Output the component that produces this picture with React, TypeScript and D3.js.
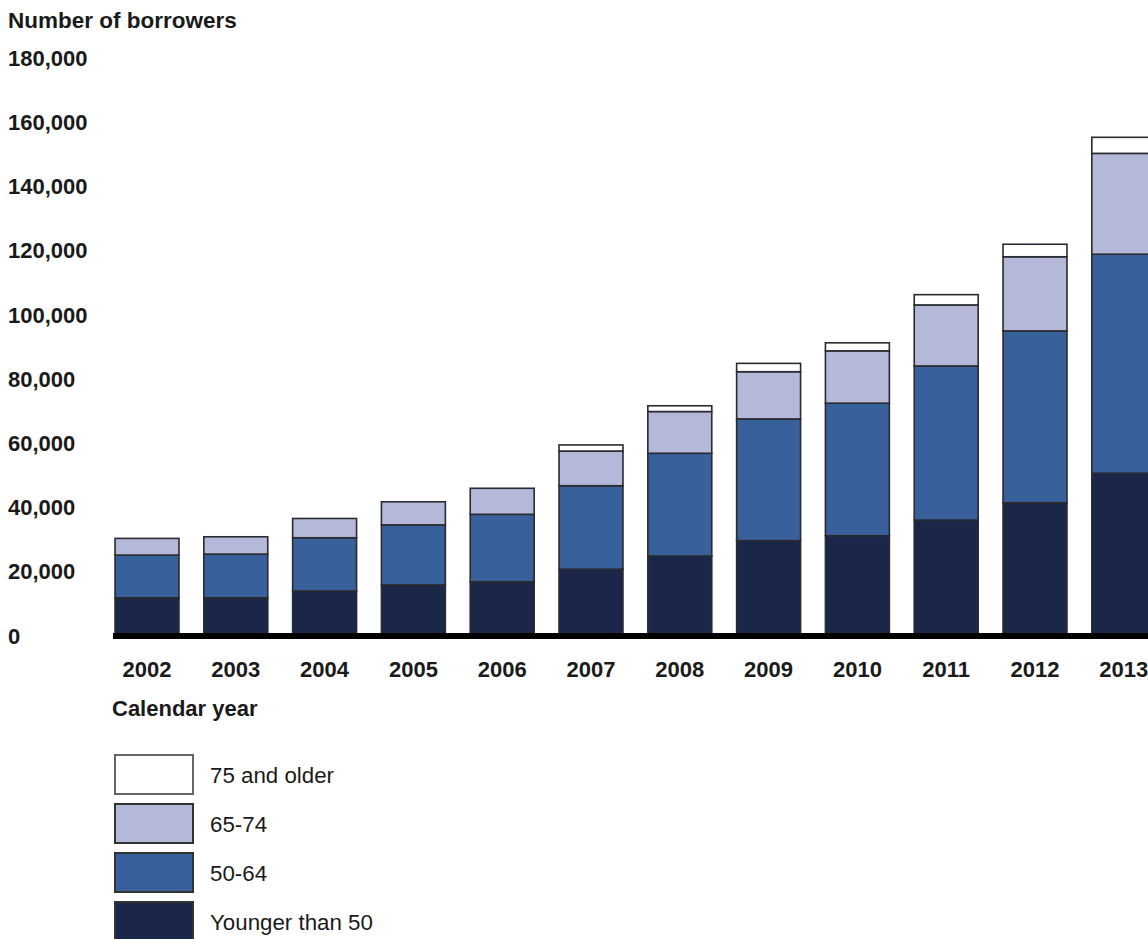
import React from "react";
import * as d3 from "d3";

const years = ["2002","2003","2004","2005","2006","2007","2008","2009","2010","2011","2012","2013"];
const younger50 = [11900, 11900, 14000, 15900, 16900, 20800, 24900, 29700, 31200, 36100, 41500, 50700];
const age50to64 = [13300, 13600, 16600, 18700, 21000, 26000, 32000, 37900, 41300, 48000, 53500, 68200];
const age65to74 = [5200, 5400, 6000, 7200, 8100, 10800, 13000, 14700, 16300, 19000, 23100, 31400];
const age75plus = [0, 0, 0, 0, 0, 1900, 1800, 2600, 2500, 3200, 3900, 5000];
const yTicks = [0, 20000, 40000, 60000, 80000, 100000, 120000, 140000, 160000, 180000];

const seriesKeys = ["young", "mid", "old", "oldest"];
const seriesLabels: Record<string, string> = {
  young: "Younger than 50",
  mid: "50-64",
  old: "65-74",
  oldest: "75 and older",
};
const colors: Record<string, string> = {
  young: "#1b2749",
  mid: "#38609b",
  old: "#b4b9d9",
  oldest: "#ffffff",
};

const FONT = "'Liberation Sans', Arial, Helvetica, sans-serif";

export default function App() {
  const W = 1148, H = 939;
  const y = d3.scaleLinear().domain([0, 180000]).range([636, 58]);
  const x = d3.scaleBand<string>().domain(years).range([102.6, 1168.2]).paddingInner(0.28).paddingOuter(0.14);

  const table = years.map((yr, i) => ({
    year: yr,
    young: younger50[i],
    mid: age50to64[i],
    old: age65to74[i],
    oldest: age75plus[i],
  }));
  const stacked = d3.stack<any>().keys(seriesKeys)(table);
  const fmt = d3.format(",");

  const legendOrder = ["oldest", "old", "mid", "young"];

  return (
    <svg width={W} height={H} style={{ position: "absolute", left: 0, top: 0, background: "#fff" }} fontFamily={FONT}>
      <text x={8} y={20} dy="0.35em" fontSize={22.5} fontWeight="bold" fill="#1a1a1a">Number of borrowers</text>
      {yTicks.map((t) => (
        <text key={t} x={8} y={y(t)} dy="0.35em" fontSize={22} fontWeight="bold" fill="#1a1a1a">{fmt(t)}</text>
      ))}
      {stacked.map((s) => (
        <g key={s.key}>
          {s.map((d, i) => {
            const h = y(d[0]) - y(d[1]);
            if (h <= 0) return null;
            return (
              <rect
                key={i}
                x={x(years[i])}
                y={y(d[1])}
                width={x.bandwidth()}
                height={h}
                fill={colors[s.key]}
                stroke="#2a2a30"
                strokeWidth={1.6}
              />
            );
          })}
        </g>
      ))}
      <line x1={113} x2={W} y1={y(0)} y2={y(0)} stroke="#000" strokeWidth={6} />
      {years.map((yr) => (
        <text key={yr} x={(x(yr) as number) + x.bandwidth() / 2} y={669} dy="0.35em" textAnchor="middle" fontSize={22} fontWeight="bold" fill="#1a1a1a">{yr}</text>
      ))}
      <text x={112} y={708} dy="0.35em" fontSize={22} fontWeight="bold" fill="#1a1a1a">Calendar year</text>
      {legendOrder.map((k, i) => (
        <g key={k} transform={`translate(115, ${755 + i * 49})`}>
          <rect x={0} y={0} width={78} height={39} fill={colors[k]} stroke={k === "oldest" ? "#666" : "#333"} strokeWidth={2} />
          <text x={95} y={20} dy="0.35em" fontSize={22.3} fill="#1a1a1a">{seriesLabels[k]}</text>
        </g>
      ))}
    </svg>
  );
}
